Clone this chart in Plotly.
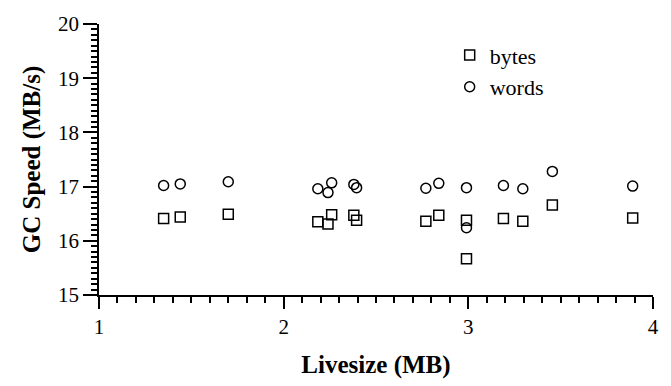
import plotly.graph_objects as go

livesize = [1.35, 1.44, 1.70, 2.185, 2.24, 2.26, 2.38, 2.395, 2.77, 2.84, 2.99, 2.99, 3.19, 3.295, 3.455, 3.89]
bytes_speed = [16.41, 16.44, 16.49, 16.35, 16.31, 16.48, 16.47, 16.38, 16.36, 16.47, 16.38, 15.67, 16.41, 16.36, 16.66, 16.42]
words_speed = [17.02, 17.05, 17.09, 16.96, 16.89, 17.07, 17.04, 16.98, 16.97, 17.06, 16.98, 16.24, 17.02, 16.96, 17.28, 17.01]

FONT = "Liberation Serif"

fig = go.Figure()
fig.add_trace(go.Scatter(
    x=livesize, y=bytes_speed, mode="markers", name="bytes",
    marker=dict(symbol="square-open", size=10, color="black", line=dict(width=1.5, color="black")),
))
fig.add_trace(go.Scatter(
    x=livesize, y=words_speed, mode="markers", name="words",
    marker=dict(symbol="circle-open", size=10, color="black", line=dict(width=1.5, color="black")),
))

fig.update_layout(
    width=671, height=386,
    margin=dict(l=99, r=14, t=19, b=80),
    paper_bgcolor="white", plot_bgcolor="white",
    font=dict(family=FONT, color="black"),
    showlegend=True,
    legend=dict(
        x=0.633, y=0.962, xanchor="left", yanchor="top",
        font=dict(family=FONT, size=22, color="black"),
        bgcolor="rgba(0,0,0,0)",
    ),
    xaxis=dict(
        range=[1, 4], dtick=1, tick0=1, ticks="outside", ticklen=12, tickcolor="black", tickwidth=1.5,
        showline=True, linecolor="black", linewidth=1.5, showgrid=False, zeroline=False,
        tickfont=dict(family=FONT, size=21, color="black"),
        minor=dict(dtick=0.1, ticks="outside", ticklen=6, tickcolor="black", tickwidth=1.5),
        title=dict(text="<b>Livesize (MB)</b>", font=dict(family=FONT, size=25, color="black"), standoff=18),
    ),
    yaxis=dict(
        range=[15, 20], dtick=1, tick0=15, ticks="outside", ticklen=14, tickcolor="black", tickwidth=1.5,
        showline=True, linecolor="black", linewidth=1.5, showgrid=False, zeroline=False,
        tickfont=dict(family=FONT, size=21, color="black"),
        minor=dict(dtick=0.1, ticks="outside", ticklen=6, tickcolor="black", tickwidth=1.5),
        title=dict(text="<b>GC Speed (MB/s)</b>", font=dict(family=FONT, size=25, color="black"), standoff=10),
    ),
)

fig.write_html("out.html")
